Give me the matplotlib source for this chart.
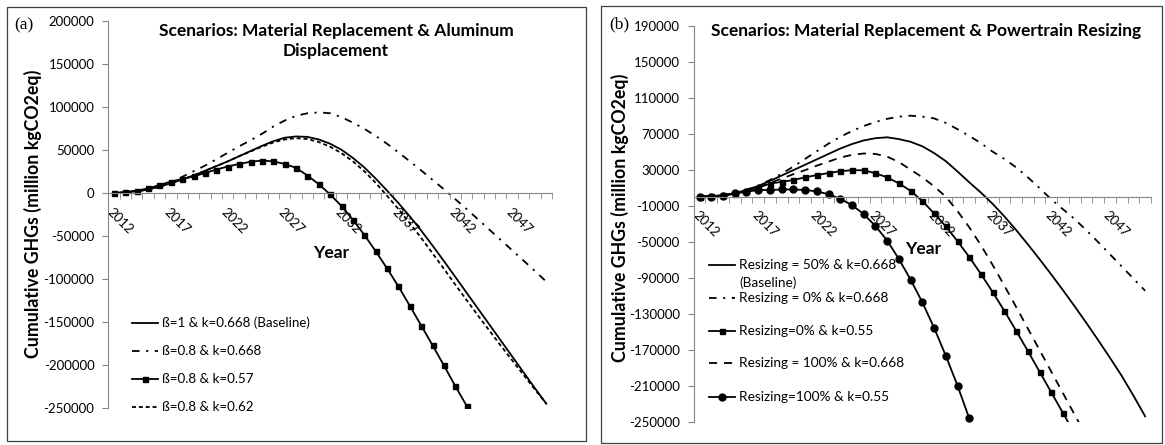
import numpy as np
import matplotlib.pyplot as plt
from matplotlib.lines import Line2D
from matplotlib.patches import Rectangle

plt.rcParams['font.family'] = ['Lato', 'DejaVu Sans']
plt.rcParams['axes.unicode_minus'] = False

# ================= data =================
years = list(range(2012, 2051))

# panel (a): material replacement & aluminum displacement
a_base_1_0668 = [0, 800, 2200, 4200, 7500, 11500, 16000, 20500, 26000, 31500, 37000,
                 43000, 49000, 55000, 60500, 64500, 66000, 65500, 62500, 57500, 50500,
                 41000, 30000, 17000, 3000, -11500, -27000, -43500, -61000, -79000,
                 -97500, -116000, -134500, -153000, -171500, -190000, -208500, -227000,
                 -245000]
a_08_0668 = [0, 900, 2300, 4500, 8000, 12500, 19000, 25500, 32000, 39500, 47000,
             54500, 61500, 69000, 77500, 84500, 90000, 93000, 94000, 93000, 88500,
             82000, 75000, 66500, 57500, 47500, 37000, 26500, 15500, 4500, -7000,
             -18500, -30500, -42500, -54500, -66500, -78500, -90500, -103000]
a_08_057 = [0, 1500, 3000, 5500, 9500, 13500, 16500, 19500, 23500, 27500, 31000,
            34000, 36500, 38000, 37000, 34000, 29500, 20500, 10500, -1500, -15000,
            -31000, -48500, -67500, -87500, -108500, -131000, -154000, -177000,
            -200500, -224500, -247500]
a_08_062 = [0, 800, 2200, 4200, 7500, 11500, 16000, 20500, 26000, 31500, 37000,
            43000, 48500, 54000, 59000, 62500, 64000, 63000, 59500, 54000, 46500,
            37000, 25500, 12000, -3000, -18500, -35000, -52000, -70000, -88000,
            -106500, -124500, -142500, -160000, -177500, -194500, -211500, -228500,
            -245000]

# panel (b): material replacement & powertrain resizing
b_r50_0668 = [0, 500, 1500, 4000, 7500, 12000, 17500, 23500, 29500, 35500, 41500,
              47500, 53500, 58500, 62500, 65000, 66000, 64000, 61000, 56000, 48500,
              39500, 28000, 16000, 4500, -8000, -22000, -37000, -53000, -69500,
              -86500, -104000, -122000, -140500, -159500, -179000, -199000, -221000,
              -244000]
b_r0_0668 = [0, 500, 1500, 3800, 7500, 12500, 18500, 25500, 33500, 42000, 50500,
             59000, 66500, 73000, 78500, 83000, 86500, 89000, 90000, 89000, 87000,
             82000, 75000, 67500, 59500, 50000, 42000, 32500, 21500, 9500, -3000,
             -14000, -25000, -37500, -50500, -64000, -77500, -91000, -104500]
b_r0_055 = [0, 500, 1500, 3500, 6500, 10000, 14500, 16500, 18500, 21500, 24000,
            26300, 28300, 29500, 29300, 26000, 21500, 14800, 6500, -4800, -18500,
            -33000, -49500, -67000, -86000, -106000, -127000, -149000, -171500,
            -194500, -217500, -240500, -263500]
b_r100_0668 = [0, 500, 1500, 3500, 7000, 11000, 15500, 20000, 25000, 29500, 34500,
               39000, 43500, 46500, 48000, 47500, 44500, 38500, 30000, 21500, 11500,
               0, -16000, -34000, -54000, -76000, -99000, -122500, -146500, -170500,
               -194500, -218500, -242500, -266500]
b_r100_055 = [0, 0, 700, 3700, 5400, 7500, 7400, 8100, 8000, 7600, 5800, 2800,
              -2400, -9300, -19400, -32600, -48700, -69300, -92200, -117400, -145600,
              -176700, -210000, -246300]

# ================= styles =================
W, H = 1165, 445
AXIS_GRAY = '#868686'
SOLID = dict(color='black', lw=1.3, ls='-')
DASHDOT = dict(color='black', lw=1.3, dashes=(4.2, 3.6, 1.2, 3.6))
SQUARE = dict(color='black', lw=1.3, ls='-', marker='s', ms=3.6)
SHORTDASH = dict(color='black', lw=1.3, dashes=(2.2, 1.6))
LONGDASH = dict(color='black', lw=1.3, dashes=(4.5, 3.8))
CIRCLE = dict(color='black', lw=1.3, ls='-', marker='o', ms=5)


def fx(px):
    return px / W


def fy(py):
    return 1 - py / H


def style_axis(ax, ymin, ymax, ystep):
    ax.set_xlim(-0.5, len(years) - 0.5)
    ax.set_ylim(ymin, ymax)
    ax.set_yticks(np.arange(ymin, ymax + 1, ystep))
    ax.set_xticks(range(0, len(years), 5))
    ax.set_xticklabels([str(y) for y in years[::5]])
    ax.set_xticks(np.arange(-0.5, len(years), 1), minor=True)
    for s in ['top', 'right']:
        ax.spines[s].set_visible(False)
    ax.spines['left'].set_color(AXIS_GRAY)
    ax.spines['bottom'].set_color(AXIS_GRAY)
    ax.spines['bottom'].set_position(('data', 0))
    ax.tick_params(axis='y', direction='out', length=4, color=AXIS_GRAY,
                   labelsize=9.5, pad=6)
    ax.tick_params(axis='x', which='major', length=0, labelsize=9.5, pad=9)
    ax.tick_params(axis='x', which='minor', direction='out', length=4,
                   color=AXIS_GRAY)
    for lab in ax.get_xticklabels():
        lab.set_rotation(-45)
        lab.set_ha('left')
        lab.set_va('top')
        lab.set_rotation_mode('anchor')
    ax.patch.set_alpha(0)


def legend_row(fig, x0, x1, ypx, style, label, fs):
    xs = [fx(x0), fx((x0 + x1) / 2), fx(x1)]
    ln = Line2D(xs, [fy(ypx)] * 3, transform=fig.transFigure, markevery=[1], **style)
    fig.add_artist(ln)
    fig.text(fx(x1 + 3.5), fy(ypx), label, fontsize=fs, va='center', ha='left')


fig = plt.figure(figsize=(W / 100, H / 100), dpi=100)

# panel frames
fig.add_artist(Rectangle((fx(7), fy(441)), fx(586) - fx(7), fy(7) - fy(441),
                         transform=fig.transFigure, fill=False, ec='#404040', lw=0.9))
fig.add_artist(Rectangle((fx(601), fy(443)), fx(1162) - fx(601), fy(6) - fy(443),
                         transform=fig.transFigure, fill=False, ec='#404040', lw=0.9))

# ================= panel (a) =================
ax_a = fig.add_axes([fx(108.3), fy(408), fx(552) - fx(108.3), fy(21.3) - fy(408)])
ax_a.plot(range(len(a_base_1_0668)), a_base_1_0668, **SOLID)
ax_a.plot(range(len(a_08_0668)), a_08_0668, **DASHDOT)
ax_a.plot(range(len(a_08_062)), a_08_062, **SHORTDASH)
ax_a.plot(range(len(a_08_057)), a_08_057, **SQUARE)
style_axis(ax_a, -250000, 200000, 50000)

fig.text(fx(24), fy(25), '(a)', family='Liberation Serif', fontsize=12.5, va='center', ha='center')
fig.text(fx(336), fy(41), 'Scenarios: Material Replacement & Aluminum\nDisplacement',
         fontsize=12.5, fontweight='bold', ha='center', va='center', linespacing=1.3)
fig.text(fx(32.5), fy(214), 'Cumulative GHGs (million kgCO2eq)', rotation=90,
         fontsize=12.8, fontweight='bold', ha='center', va='center')
fig.text(fx(331), fy(253), 'Year', fontsize=12.5, fontweight='bold', ha='center', va='center')

legend_row(fig, 131.7, 158.3, 322.7, SOLID, 'ß=1 & k=0.668 (Baseline)', 9.6)
legend_row(fig, 131.7, 158.3, 350.7, DASHDOT, 'ß=0.8 & k=0.668', 9.6)
legend_row(fig, 131.7, 158.3, 379.3, SQUARE, 'ß=0.8 & k=0.57', 9.6)
legend_row(fig, 131.7, 158.3, 407.3, SHORTDASH, 'ß=0.8 & k=0.62', 9.6)

# ================= panel (b) =================
ax_b = fig.add_axes([fx(693.7), fy(421.7), fx(1151) - fx(693.7), fy(25.7) - fy(421.7)])
ax_b.plot(range(len(b_r50_0668)), b_r50_0668, **SOLID)
ax_b.plot(range(len(b_r0_0668)), b_r0_0668, **DASHDOT)
ax_b.plot(range(len(b_r100_0668)), b_r100_0668, **LONGDASH)
ax_b.plot(range(len(b_r0_055)), b_r0_055, **SQUARE)
ax_b.plot(range(len(b_r100_055)), b_r100_055, **CIRCLE)
style_axis(ax_b, -250000, 190000, 40000)

fig.text(fx(619), fy(24), '(b)', family='Liberation Serif', fontsize=12.5, va='center', ha='center')
fig.text(fx(926), fy(31), 'Scenarios: Material Replacement & Powertrain Resizing',
         fontsize=12.5, fontweight='bold', ha='center', va='center')
fig.text(fx(619.5), fy(218), 'Cumulative GHGs (million kgCO2eq)', rotation=90,
         fontsize=12.8, fontweight='bold', ha='center', va='center')
fig.text(fx(923), fy(249), 'Year', fontsize=12.5, fontweight='bold', ha='center', va='center')

legend_row(fig, 708.7, 735.3, 265, SOLID, 'Resizing = 50% & k=0.668', 9.8)
fig.text(fx(739), fy(282.7), '(Baseline)', fontsize=9.8, va='center', ha='left')
legend_row(fig, 708.7, 735.3, 297.7, DASHDOT, 'Resizing = 0% & k=0.668', 9.8)
legend_row(fig, 708.7, 735.3, 330.7, SQUARE, 'Resizing=0% & k=0.55', 9.8)
legend_row(fig, 708.7, 735.3, 363.3, LONGDASH, 'Resizing = 100% & k=0.668', 9.8)
legend_row(fig, 708.7, 735.3, 396.7, CIRCLE, 'Resizing=100% & k=0.55', 9.8)

fig.savefig('out.png', dpi=100)
